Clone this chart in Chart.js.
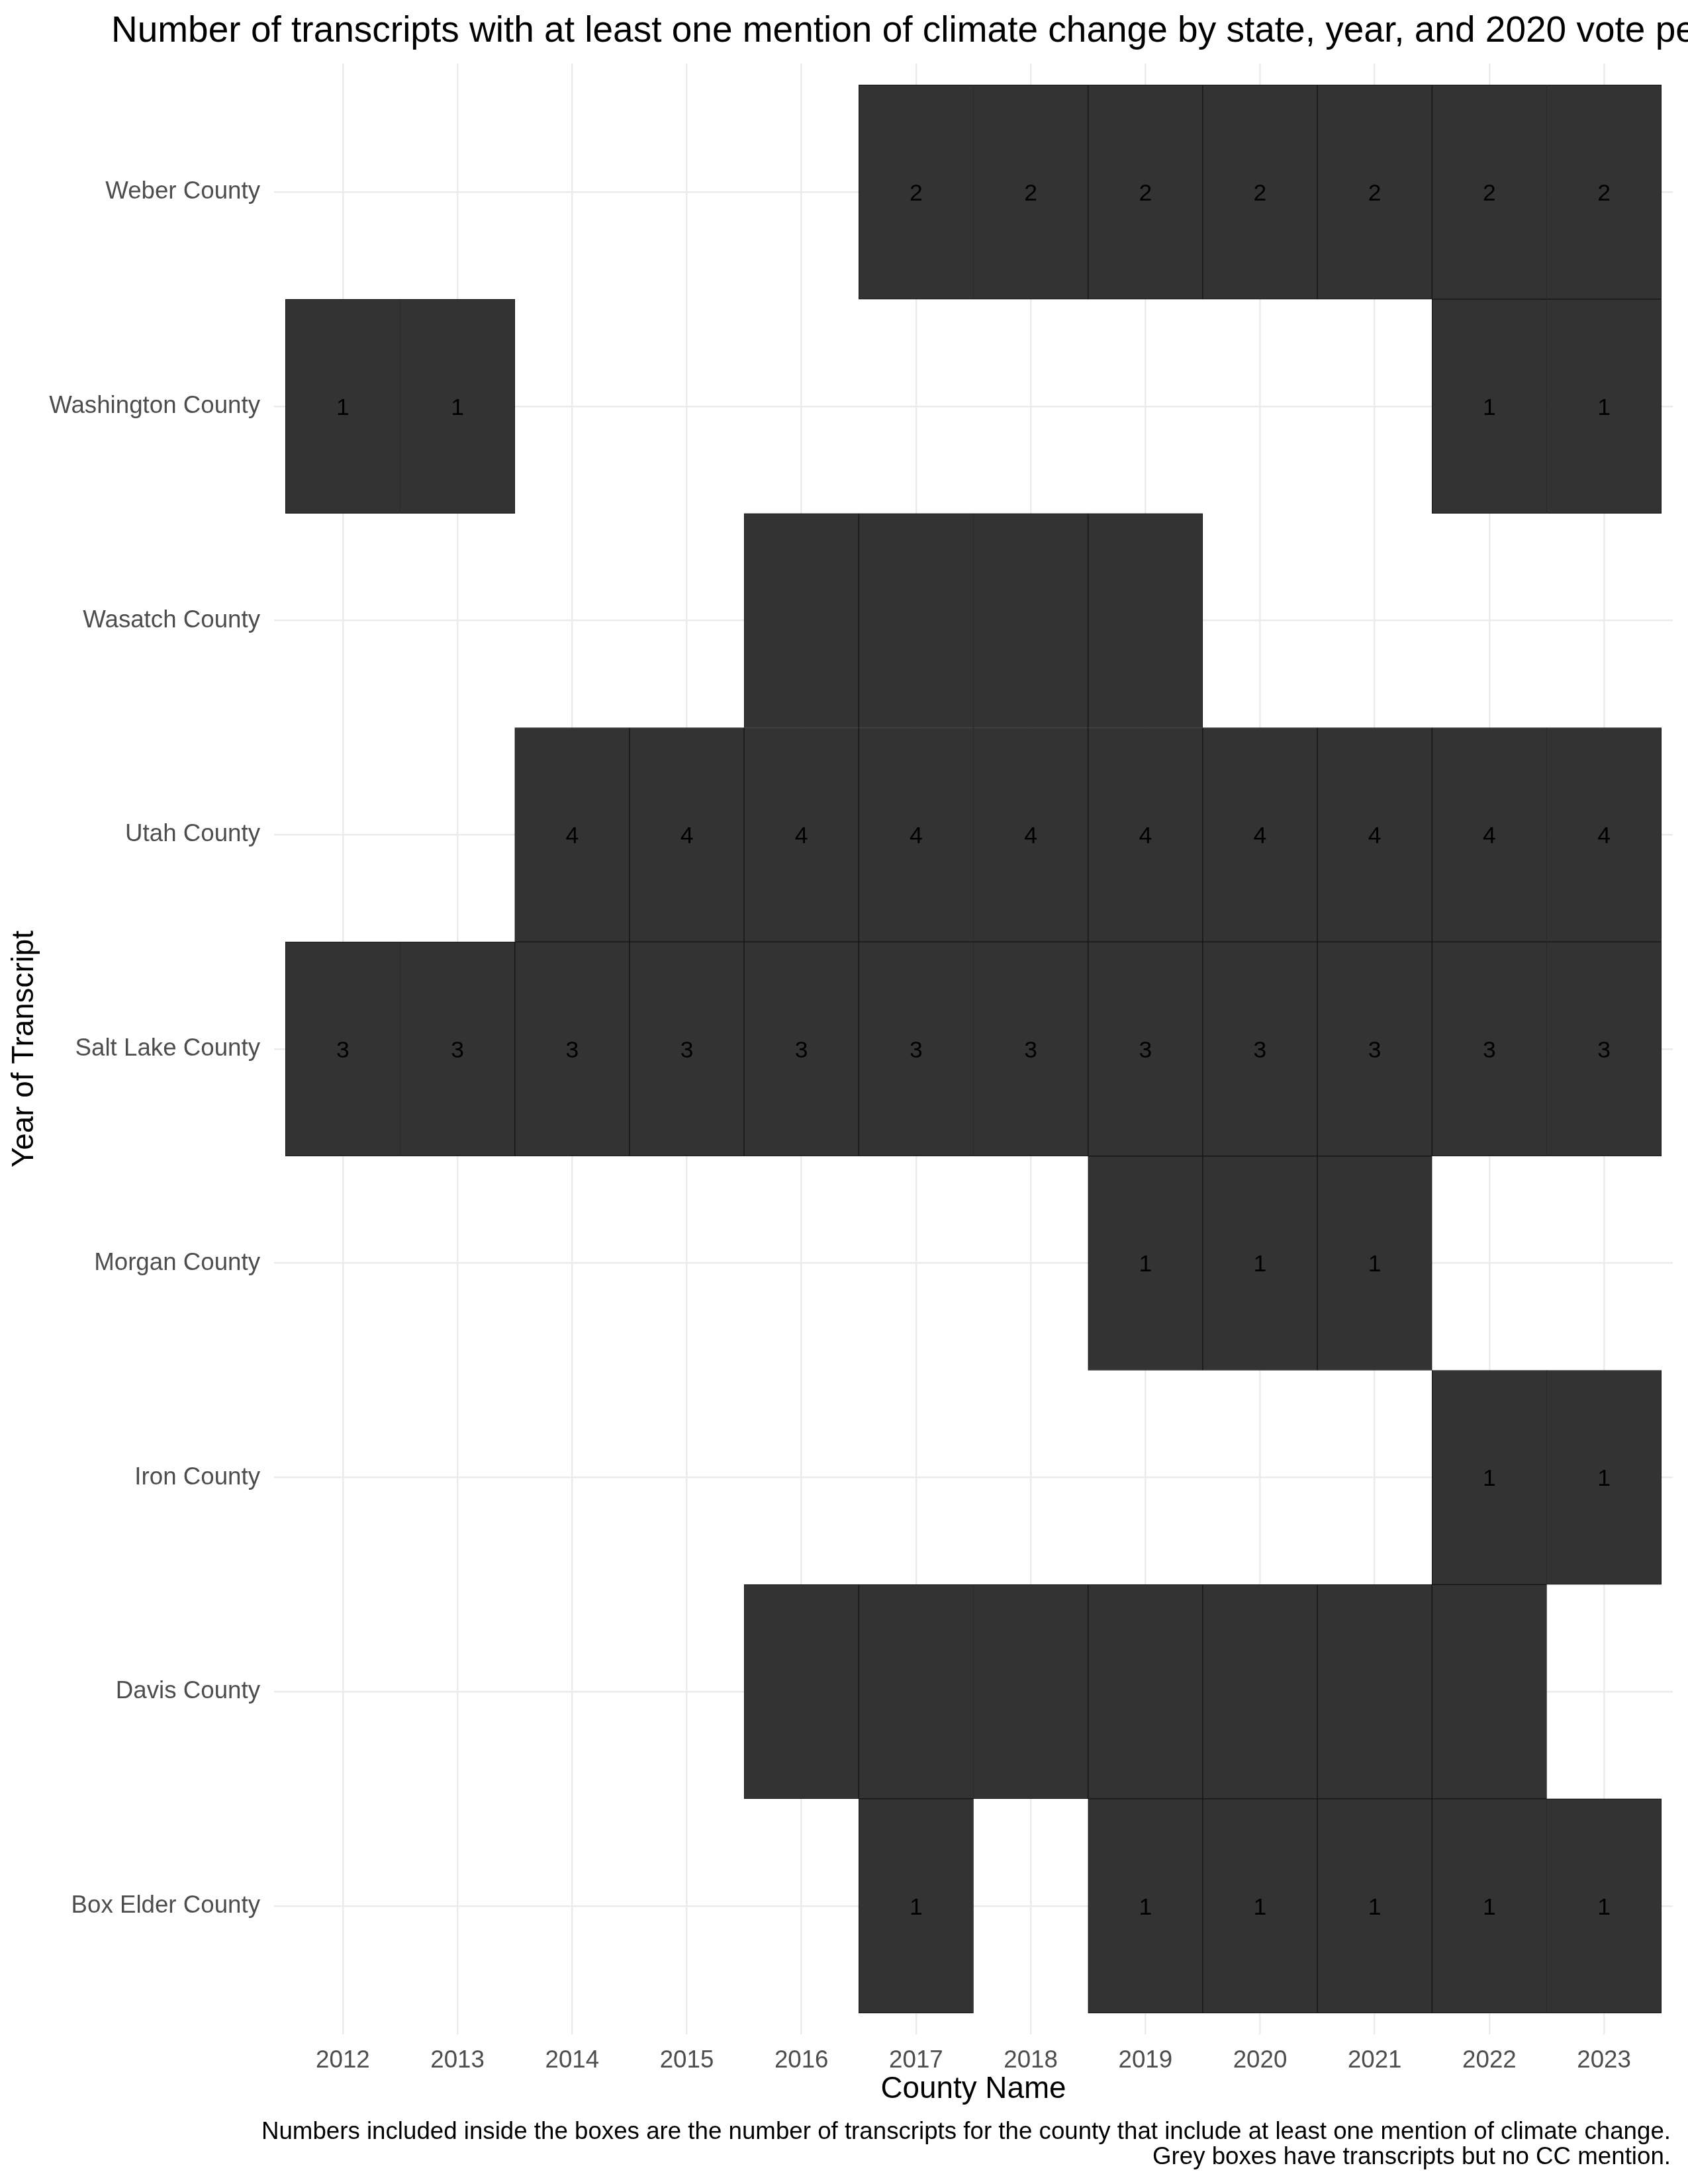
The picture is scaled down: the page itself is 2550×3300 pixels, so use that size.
<!DOCTYPE html>
<html>
<head>
<meta charset="utf-8">
<script src="https://cdn.jsdelivr.net/npm/chart.js@4.4.1/dist/chart.umd.min.js"></script>
<style>
  html, body { margin: 0; padding: 0; background: #ffffff; }
  canvas { display: block; }
</style>
</head>
<body>
<canvas id="c" width="2550" height="3300"></canvas>
<script>
// ---- data ----
const titleText = "Number of transcripts with at least one mention of climate change by state, year, and 2020 vote percentage";
const xAxisTitle = "County Name";
const yAxisTitle = "Year of Transcript";
const captionLines = [
  "Numbers included inside the boxes are the number of transcripts for the county that include at least one mention of climate change.",
  "Grey boxes have transcripts but no CC mention."
];
const years = [2012, 2013, 2014, 2015, 2016, 2017, 2018, 2019, 2020, 2021, 2022, 2023];
const counties = ["Box Elder County", "Davis County", "Iron County", "Morgan County", "Salt Lake County",
                  "Utah County", "Wasatch County", "Washington County", "Weber County"];
// null = no box, 0 = box with transcripts but no CC mention (no number shown)
const boxElder   = [null, null, null, null, null, 1, null, 1, 1, 1, 1, 1];
const davis      = [null, null, null, null, 0, 0, 0, 0, 0, 0, 0, null];
const iron       = [null, null, null, null, null, null, null, null, null, null, 1, 1];
const morgan     = [null, null, null, null, null, null, null, 1, 1, 1, null, null];
const saltLake   = [3, 3, 3, 3, 3, 3, 3, 3, 3, 3, 3, 3];
const utah       = [null, null, 4, 4, 4, 4, 4, 4, 4, 4, 4, 4];
const wasatch    = [null, null, null, null, 0, 0, 0, 0, null, null, null, null];
const washington = [1, 1, null, null, null, null, null, null, null, null, 1, 1];
const weber      = [null, null, null, null, null, 2, 2, 2, 2, 2, 2, 2];
const countyCounts = [boxElder, davis, iron, morgan, saltLake, utah, wasatch, washington, weber];

// ---- styling ----
const FONT = "'Liberation Sans', Arial, Helvetica, sans-serif";
const TILE_FILL = '#333333';
const TILE_BORDER = '#141414';
const GRID = '#ebebeb';

const datasets = counties.map((name, i) => ({
  label: name,
  data: years.map((yr, j) => countyCounts[i][j] === null ? null : { x: yr, y: [i - 0.5, i + 0.5], n: countyCounts[i][j] })
             .filter(d => d !== null),
  backgroundColor: TILE_FILL,
  borderColor: TILE_BORDER,
  borderWidth: 1,
  borderSkipped: false,
  grouped: false,
  barPercentage: 1,
  categoryPercentage: 1
}));

const textPlugin = {
  id: 'textPlugin',
  afterDatasetsDraw(chart) {
    const ctx = chart.ctx;
    ctx.save();
    ctx.fillStyle = '#000000';
    ctx.font = `35.5px ${FONT}`;
    ctx.textAlign = 'center';
    ctx.textBaseline = 'middle';
    chart.data.datasets.forEach((ds, di) => {
      const meta = chart.getDatasetMeta(di);
      meta.data.forEach((el, k) => {
        const n = ds.data[k].n;
        if (n) {
          ctx.fillText(String(n), el.x, (el.y + el.base) / 2 + 3);
        }
      });
    });
    ctx.restore();
  },
  afterDraw(chart) {
    const ctx = chart.ctx;
    ctx.save();
    ctx.fillStyle = '#000000';
    ctx.textBaseline = 'alphabetic';
    ctx.textAlign = 'left';
    ctx.font = `55px ${FONT}`;
    ctx.fillText(titleText, 168, 63);
    ctx.textAlign = 'right';
    ctx.font = `36.7px ${FONT}`;
    const capRight = chart.width - 26;
    ctx.fillText(captionLines[0], capRight, 3232);
    ctx.fillText(captionLines[1], capRight, 3270);
    ctx.restore();
  }
};

new Chart(document.getElementById('c'), {
  type: 'bar',
  data: { datasets },
  options: {
    responsive: false,
    animation: false,
    devicePixelRatio: 1,
    indexAxis: 'x',
    layout: { padding: { top: 96, right: 23, bottom: 115, left: 0 } },
    plugins: {
      legend: { display: false },
      tooltip: { enabled: false },
      title: { display: false }
    },
    scales: {
      x: {
        type: 'linear',
        offset: false,
        min: 2011.4,
        max: 2023.6,
        afterBuildTicks(scale) { scale.ticks = years.map(v => ({ value: v })); },
        afterFit(scale) { scale.height = 111; },
        grid: { color: GRID, lineWidth: 2.5, drawTicks: false, offset: false },
        border: { display: false },
        ticks: {
          autoSkip: false, maxRotation: 0, minRotation: 0,
          padding: 18, color: '#4d4d4d',
          font: { family: FONT, size: 36.7 },
          callback: (v) => String(v)
        },
        title: {
          display: true, text: xAxisTitle, color: '#000000',
          font: { family: FONT, size: 45.8 },
          padding: { top: 0, bottom: 0 }
        }
      },
      y: {
        type: 'linear',
        min: -0.6,
        max: 8.6,
        afterBuildTicks(scale) { scale.ticks = counties.map((c, i) => ({ value: i })); },
        afterFit(scale) { scale.width = 414; },
        grid: { color: GRID, lineWidth: 2.5, drawTicks: false },
        border: { display: false },
        ticks: {
          autoSkip: false,
          padding: 21, color: '#4d4d4d',
          font: { family: FONT, size: 36.7 },
          callback: (v) => counties[v]
        },
        title: {
          display: true, text: yAxisTitle, color: '#000000',
          font: { family: FONT, size: 45.8 },
          padding: { top: 10, bottom: 0 }
        }
      }
    }
  },
  plugins: [textPlugin]
});
</script>
</body>
</html>
